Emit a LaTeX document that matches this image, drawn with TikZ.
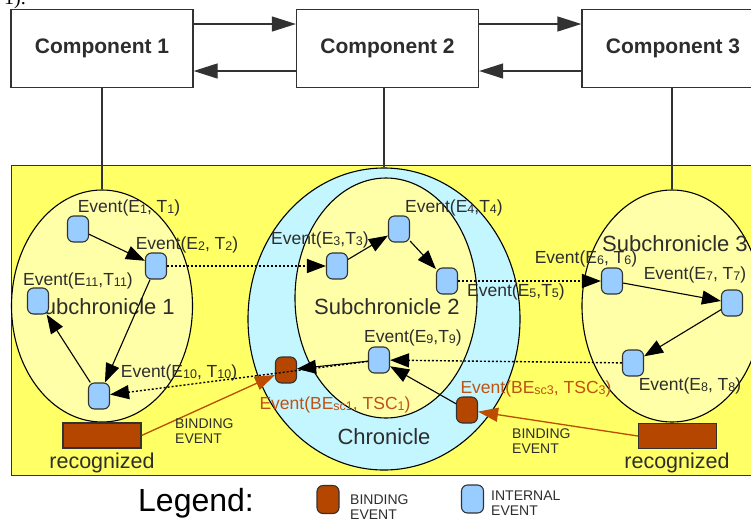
\documentclass[tikz,border=0pt]{standalone}
\usepackage{fontspec}
\setmainfont{Liberation Sans}
\newfontfamily\serifpart{Liberation Serif}
\usetikzlibrary{shapes.geometric,arrows.meta}
\definecolor{bgyellow}{RGB}{255,255,102}
\definecolor{lightyellow}{RGB}{255,255,168}
\definecolor{lightcyan}{RGB}{196,246,255}
\definecolor{evblue}{RGB}{153,204,255}
\definecolor{bebrown}{RGB}{180,70,0}
\definecolor{betext}{RGB}{190,82,20}
\definecolor{darkline}{RGB}{50,50,50}
\definecolor{labelgray}{RGB}{45,45,45}
\newcommand{\sbx}[1]{\raisebox{-0.12ex}{\fontsize{12.5}{12.5}\selectfont #1}}
\begin{document}
\begin{tikzpicture}[x=1pt,y=-1pt,
  comp/.style={draw=darkline, line width=1.3pt, fill=white, minimum width=182pt, minimum height=78pt, inner sep=0pt, font=\fontsize{21}{21}\selectfont\bfseries, text=labelgray},
  region/.style={ellipse, draw=black, line width=1.1pt, inner sep=0pt},
  ev/.style={rectangle, rounded corners=6pt, draw=darkline, line width=1.1pt, fill=evblue, minimum width=21pt, minimum height=26pt, inner sep=0pt},
  bev/.style={ev, fill=bebrown},
  evlabel/.style={font=\fontsize{17.5}{17.5}\selectfont, text=labelgray, inner sep=0pt},
  belabel/.style={evlabel, text=betext},
  bigtext/.style={font=\fontsize{22}{22}\selectfont, text=labelgray, inner sep=0pt},
  smalltext/.style={font=\fontsize{14}{15}\selectfont, text=labelgray, align=left, inner sep=0pt, anchor=west},
  rec/.style={draw=darkline, line width=1.1pt, fill=bebrown, minimum width=78pt, minimum height=25pt, inner sep=0pt},
  arr/.style={-{Triangle[length=19pt,width=14pt]}, line width=1.1pt, black},
  carr/.style={-{Triangle[length=24pt,width=15pt]}, line width=1.3pt, darkline},
  dotarr/.style={-{Triangle[length=19pt,width=14pt]}, line width=1.4pt, black, dash pattern=on 2pt off 2pt},
  barr/.style={-{Triangle[length=20pt,width=14pt]}, line width=1.3pt, bebrown!90!orange}
]
\useasboundingbox (0,0) rectangle (751,520);

% page text fragment
\node[anchor=base west, inner sep=0pt, font=\fontsize{20}{20}\selectfont\serifpart] (frag) at (4,4) {1).};

% components
\node[comp] (c1) at (102,48.5) {Component 1};
\node[comp] (c2) at (387.5,48.5) {Component 2};
\node[comp] (c3) at (673,48.5) {Component 3};

\draw[carr] ([yshift=24.5pt]c1.east) -- ([yshift=24.5pt]c2.west);
\draw[carr] ([yshift=-22.5pt]c2.west) -- ([yshift=-22.5pt]c1.east);
\draw[carr] ([yshift=24.5pt]c2.east) -- ([yshift=24.5pt]c3.west);
\draw[carr] ([yshift=-22.5pt]c3.west) -- ([yshift=-22.5pt]c2.east);

% yellow field
\node[draw=darkline, line width=1.3pt, fill=bgyellow, minimum width=770pt, minimum height=310pt, inner sep=0pt, anchor=north west] (field) at (11,165) {};

% regions
\node[region, fill=lightyellow, minimum width=181pt, minimum height=232pt] (s1) at (102,306) {};
\node[region, fill=lightcyan, minimum width=272pt, minimum height=302pt] (ch) at (384,319) {};
\node[region, fill=lightyellow, minimum width=182pt, minimum height=240pt] (s2) at (386,298) {};
\node[region, fill=lightyellow, minimum width=180pt, minimum height=232pt] (s3) at (672,306) {};

% connections component - region
\draw[line width=1.3pt, darkline] (c1.south) -- (s1.north);
\draw[line width=1.3pt, darkline] (c2.south -| ch.north) -- (ch.north);
\draw[line width=1.3pt, darkline] (c3.south -| s3.north) -- (s3.north);

% region titles
\node[bigtext] (t1) at (102,307) {Subchronicle 1};
\node[bigtext] (t2) at (387,307) {Subchronicle 2};
\node[bigtext] (t3) at (675,244) {Subchronicle 3};
\node[bigtext] (tch) at (384,437) {Chronicle};

% recognized
\node[rec] (rec1) at (102,435.5) {};
\node[rec] (rec3) at (677.5,436) {};
\node[font=\fontsize{21.5}{21.5}\selectfont, text=labelgray, inner sep=0pt] (rt1) at (102,463) {recognized};
\node[font=\fontsize{21.5}{21.5}\selectfont, text=labelgray, inner sep=0pt] (rt3) at (677,463) {recognized};

% event labels
\node[evlabel] (l1) at (129,208) {Event(E\sbx{1}, T\sbx{1})};
\node[evlabel] (l2) at (187,245) {Event(E\sbx{2}, T\sbx{2})};
\node[evlabel] (l11) at (78,281) {Event(E\sbx{11},T\sbx{11})};
\node[evlabel] (l10) at (179,373) {Event(E\sbx{10}, T\sbx{10})};
\node[evlabel] (l3) at (320,240) {Event(E\sbx{3},T\sbx{3})};
\node[evlabel] (l4) at (454,208) {Event(E\sbx{4},T\sbx{4})};
\node[evlabel] (l5) at (516,292) {Event(E\sbx{5},T\sbx{5})};
\node[evlabel] (l9) at (413,338) {Event(E\sbx{9},T\sbx{9})};
\node[evlabel] (l6) at (586,259) {Event(E\sbx{6}, T\sbx{6})};
\node[evlabel] (l7) at (695,275) {Event(E\sbx{7}, T\sbx{7})};
\node[evlabel] (l8) at (690,386) {Event(E\sbx{8}, T\sbx{8})};
\node[belabel] (lb1) at (335,405) {Event(BE\sbx{sc1}, TSC\sbx{1})};
\node[belabel] (lb3) at (536,389) {Event(BE\sbx{sc3}, TSC\sbx{3})};

% events
\node[ev] (e1) at (78,229) {};
\node[ev] (e2) at (156,266) {};
\node[ev] (e11) at (38,301) {};
\node[ev] (e10) at (99,396) {};
\node[ev] (e3) at (337,266) {};
\node[ev] (e4) at (399,229) {};
\node[ev] (e5) at (447,281) {};
\node[ev] (e9) at (379,360) {};
\node[ev] (e6) at (612,281) {};
\node[ev] (e7) at (732,303) {};
\node[ev] (e8) at (633,363) {};
\node[bev] (be1) at (286,370) {};
\node[bev] (be3) at (467,410) {};

% solid arrows
\draw[arr] (e1) -- (e2);
\draw[arr] (e2) -- (e10);
\draw[arr] (e10) -- (e11);
\draw[arr] (e3) -- (e4);
\draw[arr] (e4) -- (e5);
\draw[arr] (e6) -- (e7);
\draw[arr] (e7) -- (e8);
\draw[arr] (e9) -- (be1);
\draw[arr] (be3) -- (e9);

% dotted arrows
\draw[dotarr] (e2) -- (e3);
\draw[dotarr] (e5) -- (e6);
\draw[dotarr] (e8) -- (e9);
\draw[dotarr] (e9) -- (e10);

% binding arrows
\draw[barr] (rec1.east) -- (be1);
\draw[barr] (rec3.west) -- (be3);
\node[smalltext] (bt1) at (175,431) {BINDING\\EVENT};
\node[smalltext] (bt3) at (512,441) {BINDING\\EVENT};

% legend
\node[font=\fontsize{32}{32}\selectfont, text=black, inner sep=0pt] (leg) at (196,503) {Legend:};
\node[bev, minimum width=22pt, minimum height=28pt] (lgb) at (328,499.5) {};
\node[smalltext] (lgbt) at (350,507.5) {BINDING\\EVENT};
\node[ev, minimum width=22pt, minimum height=28pt] (lgi) at (472.5,499) {};
\node[smalltext] (lgit) at (491,503.5) {INTERNAL\\EVENT};
\end{tikzpicture}
\end{document}
